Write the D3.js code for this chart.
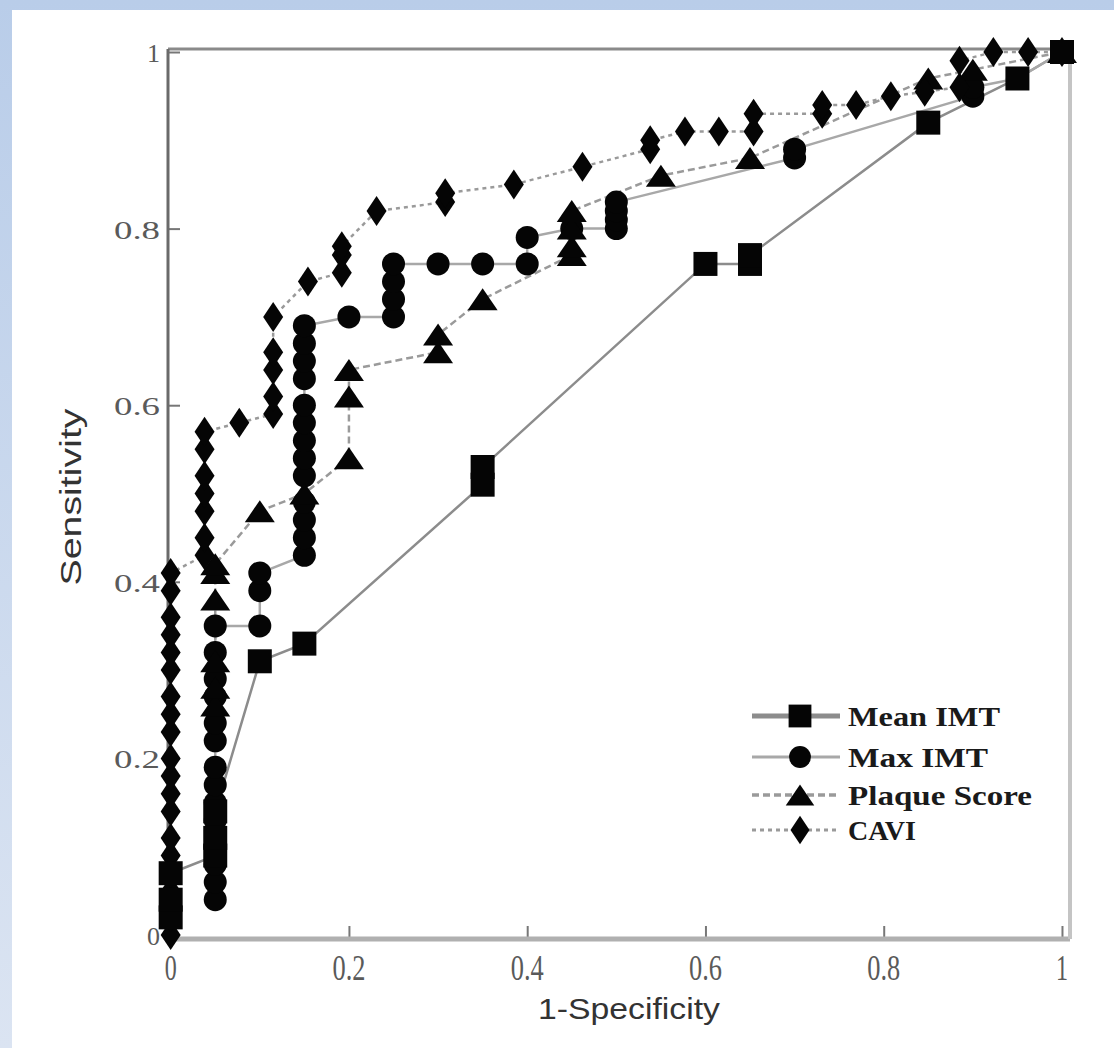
<!DOCTYPE html>
<html>
<head>
<meta charset="utf-8">
<script src="https://cdn.jsdelivr.net/npm/d3@7"></script>
<style>
  html, body { margin: 0; padding: 0; background: #fff; }
  svg { display: block; }
  .tick-label { font-family: "Liberation Serif", "Times New Roman", serif; fill: #5a5a5a; }
  .axis-title { font-family: "Liberation Sans", Arial, sans-serif; fill: #333; }
  .legend-label { font-family: "Liberation Serif", "Times New Roman", serif; font-weight: bold; fill: #1a1a1a; }
</style>
</head>
<body>
<div id="chart"></div>
<script>
// [1-specificity, sensitivity] points
const meanImt = [[0, 0.02], [0, 0.04], [0, 0.07], [0.05, 0.09], [0.05, 0.11], [0.05, 0.14],
  [0.1, 0.31], [0.15, 0.33], [0.35, 0.51], [0.35, 0.53], [0.6, 0.76], [0.65, 0.76], [0.65, 0.77],
  [0.85, 0.92], [0.95, 0.97], [1, 1]];

const maxImt = [[0.05, 0.04], [0.05, 0.06], [0.05, 0.08], [0.05, 0.1], [0.05, 0.13], [0.05, 0.15],
  [0.05, 0.17], [0.05, 0.19], [0.05, 0.22], [0.05, 0.24], [0.05, 0.27], [0.05, 0.29], [0.05, 0.32],
  [0.05, 0.35], [0.1, 0.35], [0.1, 0.39], [0.1, 0.41], [0.15, 0.43], [0.15, 0.45], [0.15, 0.47],
  [0.15, 0.49], [0.15, 0.52], [0.15, 0.54], [0.15, 0.56], [0.15, 0.58], [0.15, 0.6], [0.15, 0.63],
  [0.15, 0.65], [0.15, 0.67], [0.15, 0.69], [0.2, 0.7], [0.25, 0.7], [0.25, 0.72], [0.25, 0.74],
  [0.25, 0.76], [0.3, 0.76], [0.35, 0.76], [0.4, 0.76], [0.4, 0.79], [0.45, 0.8], [0.5, 0.8],
  [0.5, 0.81], [0.5, 0.82], [0.5, 0.83], [0.7, 0.88], [0.7, 0.89], [0.9, 0.95], [0.9, 0.96],
  [0.95, 0.97], [1, 1]];

const plaqueScore = [[0.05, 0.26], [0.05, 0.28], [0.05, 0.31], [0.05, 0.38], [0.05, 0.41], [0.05, 0.42],
  [0.1, 0.48], [0.15, 0.5], [0.2, 0.54], [0.2, 0.61], [0.2, 0.64], [0.3, 0.66], [0.3, 0.68],
  [0.35, 0.72], [0.45, 0.77], [0.45, 0.78], [0.45, 0.8], [0.45, 0.82], [0.55, 0.86], [0.65, 0.88],
  [0.85, 0.97], [0.9, 0.98], [1, 1]];

const cavi = [[0, 0], [0, 0.02], [0, 0.05], [0, 0.07], [0, 0.09], [0, 0.11], [0, 0.14], [0, 0.16],
  [0, 0.18], [0, 0.2], [0, 0.23], [0, 0.25], [0, 0.27], [0, 0.3], [0, 0.32], [0, 0.34], [0, 0.36],
  [0, 0.39], [0, 0.41], [0.038, 0.43], [0.038, 0.45], [0.038, 0.48], [0.038, 0.5], [0.038, 0.52],
  [0.038, 0.55], [0.038, 0.57], [0.077, 0.58], [0.115, 0.59], [0.115, 0.61], [0.115, 0.64],
  [0.115, 0.66], [0.115, 0.7], [0.154, 0.74], [0.192, 0.75], [0.192, 0.77], [0.192, 0.78],
  [0.231, 0.82], [0.308, 0.83], [0.308, 0.84], [0.385, 0.85], [0.462, 0.87], [0.538, 0.89],
  [0.538, 0.9], [0.577, 0.91], [0.615, 0.91], [0.654, 0.91], [0.654, 0.93], [0.731, 0.93],
  [0.731, 0.94], [0.769, 0.94], [0.808, 0.95], [0.846, 0.955], [0.885, 0.96], [0.885, 0.99],
  [0.923, 1], [0.962, 1], [1, 1]];

const seriesNames = ['Mean IMT', 'Max IMT', 'Plaque Score', 'CAVI'];
const xTicks = [0, 0.2, 0.4, 0.6, 0.8, 1];
const yTicks = [0, 0.2, 0.4, 0.6, 0.8, 1];

const W = 1114, H = 1048;
const svg = d3.select('#chart').append('svg').attr('width', W).attr('height', H);

// light blue band along the left and top edges
const grad = svg.append('defs').append('linearGradient')
  .attr('id', 'band').attr('x1', 0).attr('y1', 0).attr('x2', 0).attr('y2', 1);
grad.append('stop').attr('offset', '0%').attr('stop-color', '#b9cde9');
grad.append('stop').attr('offset', '100%').attr('stop-color', '#dbe4f2');
svg.append('rect').attr('width', W).attr('height', H).attr('fill', 'url(#band)');
svg.append('rect').attr('x', 12).attr('y', 10).attr('width', W - 12).attr('height', H - 10).attr('fill', '#fff');

const x = d3.scaleLinear().domain([-0.003, 1.009]).range([168, 1070]);
const y = d3.scaleLinear().domain([-0.0045, 1.0034]).range([939, 49]);
const [plotLeft, plotRight] = x.range();
const [plotBottom, plotTop] = y.range();

// inward ticks
svg.append('g')
  .attr('transform', `translate(0,${plotBottom})`)
  .call(d3.axisBottom(x).tickValues(xTicks).tickSize(-13).tickFormat(''))
  .call(g => g.select('.domain').remove())
  .call(g => g.selectAll('line').attr('stroke', '#777').attr('stroke-width', 2));
svg.append('g')
  .attr('transform', `translate(${plotLeft},0)`)
  .call(d3.axisLeft(y).tickValues(yTicks).tickSize(-12).tickFormat(''))
  .call(g => g.select('.domain').remove())
  .call(g => g.selectAll('line').attr('stroke', '#777').attr('stroke-width', 2));

// frame
svg.append('line').attr('x1', plotLeft).attr('x2', plotRight).attr('y1', plotBottom).attr('y2', plotBottom)
  .attr('stroke', '#b0b0b0').attr('stroke-width', 5);
svg.append('line').attr('x1', plotRight).attr('x2', plotRight).attr('y1', plotTop).attr('y2', plotBottom)
  .attr('stroke', '#c4c4c4').attr('stroke-width', 4);
svg.append('line').attr('x1', plotLeft).attr('x2', plotRight).attr('y1', plotTop).attr('y2', plotTop)
  .attr('stroke', '#8a8a8a').attr('stroke-width', 3);
svg.append('line').attr('x1', plotLeft).attr('x2', plotLeft).attr('y1', plotTop).attr('y2', plotBottom)
  .attr('stroke', '#6a6a6a').attr('stroke-width', 3);

// tick labels (squeezed on x, stretched on y like the scan)
svg.append('g').selectAll('text')
  .data(xTicks)
  .join('text')
  .attr('class', 'tick-label')
  .attr('x', d => x(d))
  .attr('y', plotBottom + 41)
  .attr('text-anchor', 'middle')
  .attr('font-size', 36)
  .attr('textLength', d => String(d).length > 1 ? 33 : 12)
  .attr('lengthAdjust', 'spacingAndGlyphs')
  .text(d => String(d));
svg.append('g').selectAll('text')
  .data(yTicks)
  .join('text')
  .attr('class', 'tick-label')
  .attr('x', plotLeft - 8)
  .attr('y', d => y(d) + 10)
  .attr('text-anchor', 'end')
  .attr('font-size', 25)
  .attr('textLength', d => String(d).length > 1 ? 46 : 13)
  .attr('lengthAdjust', 'spacingAndGlyphs')
  .text(d => String(d));

// axis titles
svg.append('text')
  .attr('class', 'axis-title')
  .attr('x', 629).attr('y', 1019)
  .attr('text-anchor', 'middle')
  .attr('font-size', 30)
  .attr('textLength', 182).attr('lengthAdjust', 'spacingAndGlyphs')
  .text('1-Specificity');
svg.append('text')
  .attr('class', 'axis-title')
  .attr('transform', 'translate(81,497) rotate(-90)')
  .attr('text-anchor', 'middle')
  .attr('font-size', 30)
  .attr('textLength', 177).attr('lengthAdjust', 'spacingAndGlyphs')
  .text('Sensitivity');

// marker shapes centred on 0,0
function shapePath(kind, s) {
  const p = d3.path();
  if (kind === 'square') {
    p.rect(-12 * s, -12 * s, 24 * s, 24 * s);
  } else if (kind === 'circle') {
    p.arc(0, 0, 11.5 * s, 0, 2 * Math.PI);
  } else if (kind === 'triangle') {
    p.moveTo(0, -11 * s); p.lineTo(15 * s, 11 * s); p.lineTo(-15 * s, 11 * s); p.closePath();
  } else {
    p.moveTo(0, -15 * s); p.lineTo(10 * s, 0); p.lineTo(0, 15 * s); p.lineTo(-10 * s, 0); p.closePath();
  }
  return p.toString();
}

const styles = [
  { data: meanImt, shape: 'square', width: 2.5, color: '#8c8c8c', dash: null, legendWidth: 5 },
  { data: maxImt, shape: 'circle', width: 2.5, color: '#a8a8a8', dash: null, legendWidth: 3 },
  { data: plaqueScore, shape: 'triangle', width: 2.5, color: '#9a9a9a', dash: '7,4', legendWidth: 3.5 },
  { data: cavi, shape: 'diamond', width: 2.5, color: '#9a9a9a', dash: '4,4', legendWidth: 3 }
];

const line = d3.line().x(d => x(d[0])).y(d => y(d[1]));

svg.append('g').selectAll('path')
  .data(styles)
  .join('path')
  .attr('d', d => line(d.data))
  .attr('fill', 'none')
  .attr('stroke', d => d.color)
  .attr('stroke-width', d => d.width)
  .attr('stroke-dasharray', d => d.dash);

// markers: Mean IMT squares end up on top
const markerOrder = [1, 2, 3, 0];
markerOrder.forEach(i => {
  const st = styles[i];
  svg.append('g').selectAll('path')
    .data(st.data)
    .join('path')
    .attr('d', shapePath(st.shape, 1))
    .attr('transform', d => `translate(${x(d[0])},${y(d[1])})`)
    .attr('fill', '#050505');
});

// legend
const legendRows = [716, 757, 795, 830];
const legendWidths = [152, 140, 184, 68];
const legend = svg.append('g');
styles.forEach((st, i) => {
  const ly = legendRows[i];
  legend.append('line')
    .attr('x1', 752).attr('x2', 840).attr('y1', ly).attr('y2', ly)
    .attr('stroke', st.color).attr('stroke-width', st.legendWidth)
    .attr('stroke-dasharray', st.dash);
  legend.append('path')
    .attr('d', shapePath(st.shape, 0.95))
    .attr('transform', `translate(800,${ly})`)
    .attr('fill', '#050505');
  legend.append('text')
    .attr('class', 'legend-label')
    .attr('x', 848).attr('y', ly + 10)
    .attr('font-size', 28)
    .attr('textLength', legendWidths[i]).attr('lengthAdjust', 'spacingAndGlyphs')
    .text(seriesNames[i]);
});
</script>
</body>
</html>
